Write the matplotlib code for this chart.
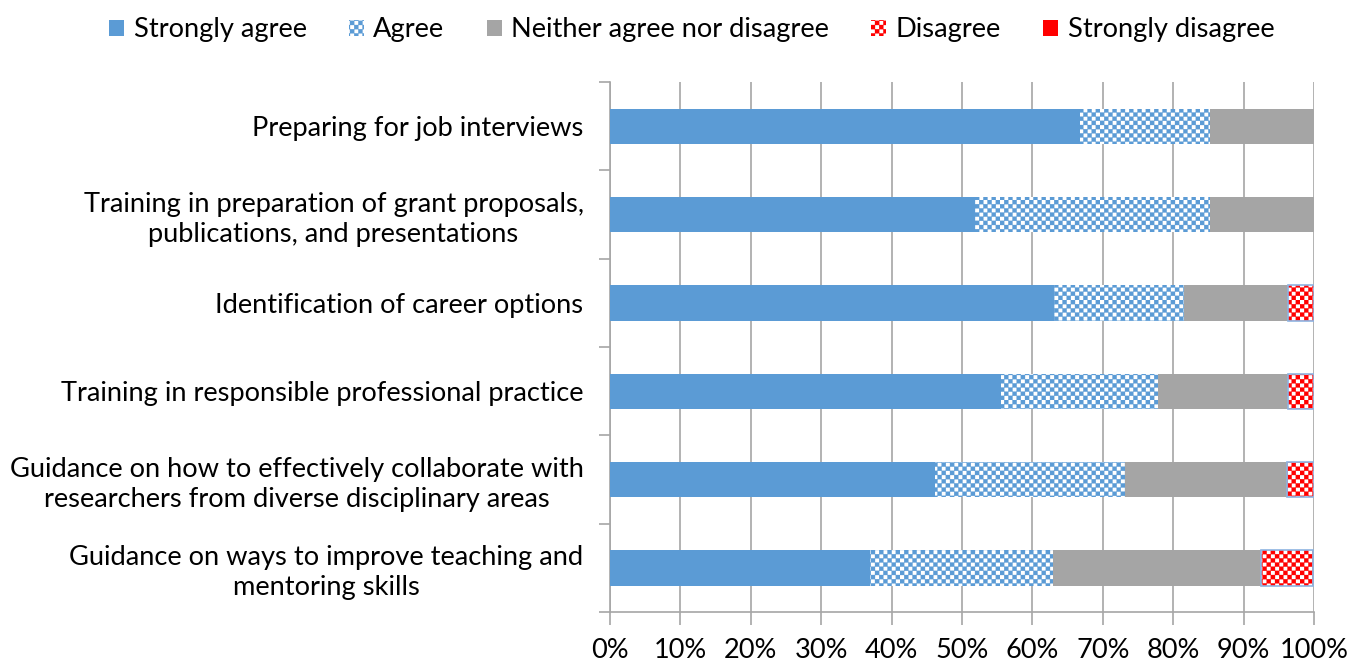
import numpy as np
import matplotlib
matplotlib.use("Agg")
import matplotlib.pyplot as plt
import matplotlib.hatch as mhatch
from matplotlib.path import Path
from matplotlib.patches import Patch

# ---------------- data ----------------
categories = [
    "Preparing for job interviews",
    "Training in preparation of grant proposals,\npublications, and presentations",
    "Identification of career options",
    "Training in responsible professional practice",
    "Guidance on how to effectively collaborate with\nresearchers from diverse disciplinary areas",
    "Guidance on ways to improve teaching and\nmentoring skills",
]
strongly_agree = [66.7, 51.9, 63.0, 55.6, 46.2, 37.0]
agree = [18.5, 33.3, 18.5, 22.2, 26.9, 25.9]
neither = [14.8, 14.8, 14.8, 18.5, 23.1, 29.6]
disagree = [0.0, 0.0, 3.7, 3.7, 3.8, 7.4]
strongly_disagree = [0.0, 0.0, 0.0, 0.0, 0.0, 0.0]
series_names = ["Strongly agree", "Agree", "Neither agree nor disagree",
                "Disagree", "Strongly disagree"]
xtick_vals = list(range(0, 101, 10))
xtick_labels = [f"{v}%" for v in xtick_vals]


# ---------------- checkerboard hatch (replaces 'O') ----------------
class CheckerHatch(mhatch.HatchPatternBase):
    def __init__(self, hatch, density):
        pairs = hatch.count('O') * density
        self.n = 2 * pairs
        self.num_vertices = (self.n * self.n // 2) * 5 if pairs else 0

    def set_vertices_and_codes(self, vertices, codes):
        n = self.n
        s = 1.0 / n
        k = 0
        for i in range(n):
            for j in range(n):
                if (i + j) % 2 == 0:
                    x0, y0 = i * s, j * s
                    vertices[k:k + 5] = [(x0, y0), (x0 + s, y0), (x0 + s, y0 + s),
                                         (x0, y0 + s), (x0, y0)]
                    codes[k:k + 5] = [Path.MOVETO, Path.LINETO, Path.LINETO,
                                      Path.LINETO, Path.CLOSEPOLY]
                    k += 5


mhatch._hatch_types = [t for t in mhatch._hatch_types
                       if t is not mhatch.LargeCircles] + [CheckerHatch]

plt.rcParams['font.family'] = ['Lato', 'DejaVu Sans']
plt.rcParams['hatch.linewidth'] = 0.2

blue = "#5B9BD5"
gray = "#A5A5A5"
red = "#FF0000"
outline = "#8DB4E2"
axcol = "#A6A6A6"

fig = plt.figure(figsize=(13.51, 6.63), dpi=100)
ax = fig.add_axes([0.4515, 0.0769, 0.5211, 0.7994])

y = np.arange(len(categories))
h = 0.4
sa = np.array(strongly_agree)
a = np.array(agree)
ne = np.array(neither)
d = np.array(disagree)
sd = np.array(strongly_disagree)

ax.barh(y, sa, height=h, color=blue, linewidth=0, zorder=3)
ax.barh(y, a, left=sa, height=h, color="white", edgecolor=blue,
        hatch="OO", linewidth=0, zorder=3)
ax.barh(y, ne, left=sa + a, height=h, color=gray, linewidth=0, zorder=3)
ax.barh(y, d, left=sa + a + ne, height=h, color="white", edgecolor=red,
        hatch="OO", linewidth=0, zorder=3)
ax.barh(y, d, left=sa + a + ne, height=h, fill=False, edgecolor=outline,
        linewidth=[1.2 if v > 0 else 0 for v in d], zorder=4)
ax.barh(y, sd, left=sa + a + ne + d, height=h, color=red, linewidth=0, zorder=3)

ax.set_xlim(0, 100)
ax.set_ylim(len(categories) - 0.5, -0.5)
ax.set_xticks(xtick_vals)
ax.set_xticklabels(xtick_labels, fontsize=19.5)
ax.set_yticks(y)
ax.set_yticklabels(categories, fontsize=19.6, linespacing=1.25)
for lbl in ax.get_yticklabels():
    lbl.set_multialignment('center')
ax.set_yticks(np.arange(len(categories) + 1) - 0.5, minor=True)
ax.tick_params(axis='y', which='major', length=0, pad=19)
ax.tick_params(axis='y', which='minor', length=8, color=axcol, width=1.2)
ax.tick_params(axis='x', length=9, color=axcol, width=1.2, pad=10)

ax.grid(axis='x', color=axcol, linewidth=1.2, zorder=0)
ax.set_axisbelow(True)
for s in ["top", "right"]:
    ax.spines[s].set_visible(False)
for s in ["left", "bottom"]:
    ax.spines[s].set_color(axcol)
    ax.spines[s].set_linewidth(1.2)

handles = [
    Patch(facecolor=blue, edgecolor=blue, linewidth=0),
    Patch(facecolor="white", edgecolor=blue, hatch="OO", linewidth=0),
    Patch(facecolor=gray, edgecolor=gray, linewidth=0),
    Patch(facecolor="white", edgecolor=red, hatch="OO", linewidth=0),
    Patch(facecolor=red, edgecolor=red, linewidth=0),
]
fig.legend(handles, series_names, loc="center", bbox_to_anchor=(0.512, 0.955),
           ncol=5, frameon=False, fontsize=19.6, handlelength=0.55,
           handleheight=0.55, handletextpad=0.35, columnspacing=1.55)

fig.savefig("out.png", dpi=100)
